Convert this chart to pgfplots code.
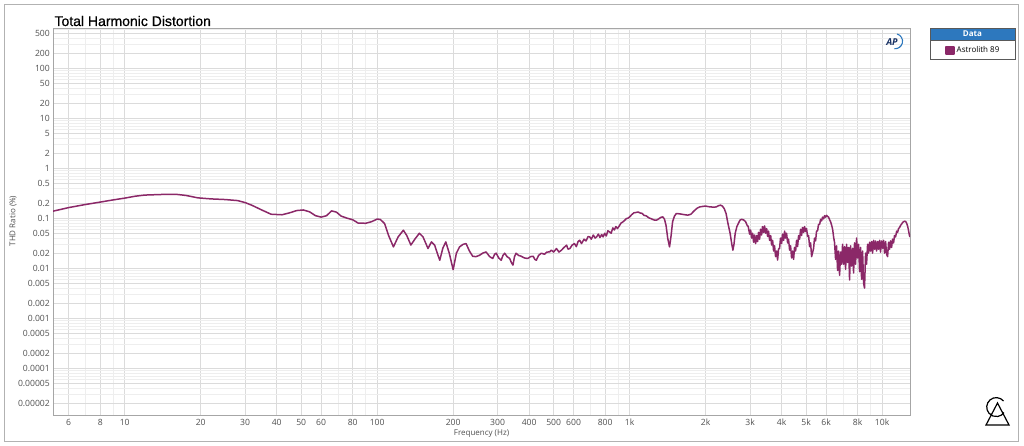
\documentclass[border=0pt]{standalone}
\usepackage{pgfplots}
\pgfplotsset{compat=1.18}
\usepackage{fontspec}
\setmainfont{Open Sans}
\newfontfamily\titlefont[FakeBold=0.6]{Liberation Sans}
\definecolor{plotc}{RGB}{139,40,104}
\definecolor{hdr}{RGB}{45,120,190}
\definecolor{navy}{RGB}{25,50,100}
\definecolor{tickc}{RGB}{80,80,80}
\pgfplotstableread{
f v
5.2 0.138
6 0.163
7 0.188
8 0.21
9 0.232
10 0.252
11 0.275
12 0.29
14 0.298
16 0.30
17.5 0.285
19.5 0.255
22 0.243
25 0.236
28 0.225
30 0.205
32 0.18
35 0.145
38 0.12
42 0.117
45 0.128
48 0.142
51 0.146
54 0.134
57 0.112
60 0.105
63 0.112
66 0.14
69 0.132
72 0.11
76 0.1
80 0.093
84 0.08
90 0.079
95 0.085
100 0.096
103 0.094
107 0.078
111 0.045
116 0.0266
121 0.042
127 0.0574
131 0.045
136 0.029
141 0.038
147 0.05
152 0.042
159 0.0247
164 0.0335
169 0.0288
173 0.02
177 0.0144
182 0.025
187 0.0335
193 0.02
200 0.0093
206 0.02
212 0.0266
219 0.03
225 0.031
232 0.022
239 0.0173
246 0.017
254 0.018
262 0.02
270 0.0211
279 0.017
287 0.0156
292 0.019
296 0.0199
303 0.016
310 0.0144
315 0.018
320 0.0199
327 0.017
335 0.0156
340 0.013
345 0.0115
350 0.017
355 0.0199
363 0.018
372 0.0173
383 0.016
395 0.0156
405 0.017
415 0.0173
421 0.015
427 0.0144
436 0.018
447 0.0199
460 0.019
470 0.021
482 0.0211
490 0.023
500 0.021
513 0.0247
525 0.021
537 0.0229
550 0.026
563 0.0288
570 0.024
580 0.0247
592 0.029
605 0.031
615 0.027
625 0.034
634 0.0362
645 0.031
660 0.038
672 0.035
685 0.043
695 0.0422
705 0.038
718 0.046
730 0.04
740 0.0422
752 0.048
763 0.041
775 0.047
785 0.0422
797 0.05
808 0.044
820 0.056
833 0.053
845 0.05
858 0.064
870 0.058
882 0.068
895 0.062
910 0.07
925 0.08
940 0.084
955 0.09
970 0.098
985 0.1
1000 0.106
1020 0.118
1040 0.128
1060 0.13
1080 0.133
1100 0.127
1120 0.125
1140 0.114
1165 0.111
1190 0.102
1220 0.097
1250 0.092
1276 0.091
1300 0.096
1330 0.104
1355 0.106
1375 0.095
1395 0.07
1415 0.04
1439 0.0266
1460 0.045
1480 0.085
1505 0.11
1531 0.124
1580 0.122
1640 0.118
1700 0.115
1750 0.12
1800 0.14
1850 0.158
1893 0.168
1950 0.172
2000 0.175
2050 0.17
2100 0.168
2150 0.166
2204 0.168
2250 0.178
2290 0.182
2330 0.175
2370 0.155
2410 0.124
2450 0.08
2500 0.05
2540 0.03
2565 0.0229
2590 0.03
2620 0.05
2660 0.068
2700 0.08
2740 0.092
2780 0.095
2830 0.092
2880 0.085
2920 0.072
2950 0.068
2987 0.048
3015 0.058
3042 0.04
3070 0.05
3098 0.033
3125 0.046
3155 0.031
3185 0.045
3213 0.034
3240 0.052
3272 0.038
3300 0.06
3333 0.046
3360 0.068
3394 0.052
3425 0.07
3456 0.05
3490 0.062
3520 0.043
3550 0.055
3585 0.036
3620 0.045
3651 0.029
3685 0.036
3718 0.022
3750 0.028
3786 0.017
3820 0.022
3856 0.0145
3890 0.024
3927 0.025
3960 0.04
3999 0.031
4035 0.048
4073 0.036
4110 0.055
4148 0.04
4185 0.05
4224 0.032
4260 0.038
4302 0.023
4340 0.028
4381 0.016
4420 0.022
4462 0.015
4500 0.026
4544 0.022
4585 0.036
4627 0.027
4670 0.045
4713 0.038
4755 0.06
4799 0.045
4840 0.065
4888 0.052
4930 0.068
4978 0.054
5020 0.062
5069 0.043
5115 0.045
5163 0.027
5210 0.032
5258 0.017
5300 0.02
5354 0.025
5400 0.04
5453 0.035
5500 0.055
5553 0.056
5600 0.075
5656 0.075
5710 0.095
5760 0.088
5810 0.105
5866 0.097
5920 0.112
5974 0.105
6030 0.114
6084 0.108
6140 0.105
6196 0.093
6250 0.085
6310 0.073
6370 0.06
6426 0.042
6480 0.033
6544 0.015
6600 0.028
6665 0.009
6720 0.022
6787 0.0072
6850 0.021
6912 0.012
6975 0.03
7039 0.012
7100 0.027
7169 0.0095
7235 0.03
7301 0.013
7370 0.026
7435 0.0058
7500 0.028
7572 0.011
7640 0.025
7711 0.008
7780 0.032
7853 0.012
7925 0.04
7998 0.016
8070 0.03
8145 0.0085
8220 0.026
8295 0.006
8370 0.022
8447 0.005
8520 0.004
8603 0.02
8680 0.012
8761 0.03
8840 0.02
8923 0.033
9000 0.022
9087 0.034
9170 0.02
9254 0.036
9340 0.024
9425 0.035
9510 0.022
9598 0.034
9690 0.024
9775 0.036
9860 0.021
9954 0.035
10050 0.025
10137 0.036
10230 0.02
10325 0.034
10420 0.019
10515 0.017
10610 0.033
10708 0.024
10800 0.035
10905 0.026
11000 0.038
11106 0.032
11200 0.045
11311 0.042
11420 0.055
11518 0.052
11620 0.062
11730 0.065
11840 0.072
11946 0.076
12060 0.082
12166 0.085
12280 0.087
12391 0.086
12500 0.08
12619 0.07
12740 0.055
12852 0.044
12900 0.042
}\thd
\begin{document}
\begin{tikzpicture}[x=1pt,y=1pt]
\useasboundingbox (0,0) rectangle (1024,445);
\fill[white] (0,0) rectangle (1024,445);
\draw[gray!60, line width=0.8pt] (4,4) rectangle (1018,441);
\begin{axis}[
  at={(53pt,30pt)}, anchor=south west,
  scale only axis, width=857pt, height=387pt,
  xmode=log, ymode=log,
  xmin=5.2, xmax=12900, ymin=1.15e-5, ymax=640,
  axis line style={gray!70, line width=0.6pt},
  major tick length=0pt, minor tick length=0pt,
  grid=both,
  major grid style={gray!28, line width=0.5pt},
  minor grid style={gray!13, line width=0.4pt},
  xtick={6,8,10,20,30,40,50,60,80,100,200,300,400,500,600,800,1000,2000,3000,4000,5000,6000,8000,10000},
  xticklabels={6,8,10,20,30,40,50,60,80,100,200,300,400,500,600,800,1k,2k,3k,4k,5k,6k,8k,10k},
  minor xtick={7,9,70,90,700,900,7000,9000},
  ytick={0.00002,0.00005,0.0001,0.0002,0.0005,0.001,0.002,0.005,0.01,0.02,0.05,0.1,0.2,0.5,1,2,5,10,20,50,100,200,500},
  yticklabels={0.00002,0.00005,0.0001,0.0002,0.0005,0.001,0.002,0.005,0.01,0.02,0.05,0.1,0.2,0.5,1,2,5,10,20,50,100,200,500},
  minor ytick={3e-5,4e-5,6e-5,7e-5,8e-5,9e-5,3e-4,4e-4,6e-4,7e-4,8e-4,9e-4,3e-3,4e-3,6e-3,7e-3,8e-3,9e-3,0.03,0.04,0.06,0.07,0.08,0.09,0.3,0.4,0.6,0.7,0.8,0.9,3,4,6,7,8,9,30,40,60,70,80,90,300,400,600},
  /pgf/number format/assume math mode=true,
  ticklabel style={font=\fontsize{8.6}{10}\selectfont, text=tickc},
  yticklabel style={inner sep=0pt, xshift=-3pt},
  xticklabel style={inner sep=0pt, yshift=-4pt},
  legend style={draw=none, fill=none, inner sep=0pt, at={(1.04084,0.94186)}, anchor=west,
    font=\fontsize{8}{9}\selectfont, nodes={inner sep=0pt}, column sep=2pt},
  legend image code/.code={\fill[plotc] (0pt,-3.5pt) rectangle (8pt,3.5pt);},
]
\addplot[plotc, line width=1.5pt, line join=round, mark=none] table[x=f, y=v] {\thd};
\addlegendentry{Astrolith 89}
\end{axis}
% title and labels
\node[anchor=base west, font=\titlefont\fontsize{14}{16}\selectfont] at (51,419) {Total Harmonic Distortion};
\node[rotate=90, font=\fontsize{8}{9}\selectfont, text=tickc] at (13,224) {THD Ratio (\%)};
\node[font=\fontsize{8}{9}\selectfont, text=tickc] at (481.5,11) {Frequency (Hz)};
% legend frame
\fill[hdr] (930,405) rectangle (1015,417);
\draw[gray!70!black, line width=0.6pt] (930,386) rectangle (1015,417);
\draw[gray!70!black, line width=0.4pt] (930,405) -- (1015,405);
\node[font=\bfseries\fontsize{8}{9}\selectfont, text=white] at (972.5,411) {Data};
% AP logo
\node[font=\bfseries\itshape\fontsize{9.5}{10}\selectfont, text=navy] at (892,403) {AP};
\draw[hdr, line width=1.1pt] (897,411) arc[start angle=75, end angle=-95, radius=7.5];
% bottom-right logo
\draw[black, line width=1.2pt, line join=miter] (986,20) -- (1009,20) -- (997.5,42) -- cycle;
\draw[black, line width=1.2pt] (1003.5,44) arc[start angle=40, end angle=325, radius=9.5];
\end{tikzpicture}
\end{document}
